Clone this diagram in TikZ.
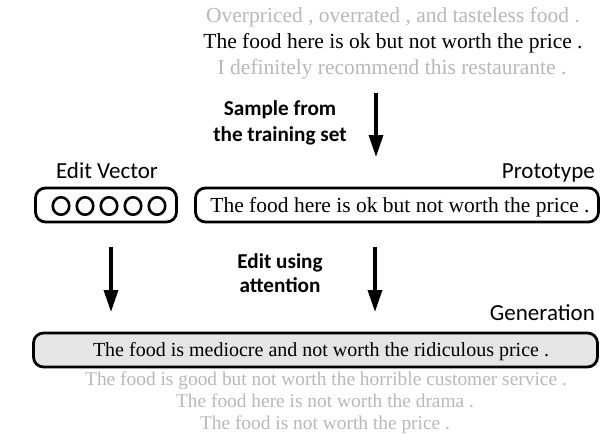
\documentclass[tikz,border=0pt]{standalone}
\usepackage{fontspec}
\setmainfont{Liberation Serif}
\newfontfamily\lblfont{Carlito}
\usetikzlibrary{arrows.meta,shapes.geometric}
\definecolor{txtgray}{gray}{0.72}
\definecolor{genfill}{gray}{0.9}
\begin{document}
\begin{tikzpicture}[x=1pt,y=-1pt,
  sent/.style={font=\fontsize{21.5}{26}\selectfont, inner sep=0pt, anchor=base},
  small sent/.style={font=\fontsize{19.4}{23}\selectfont, inner sep=0pt, anchor=base, text=txtgray},
  lbl/.style={font=\lblfont\fontsize{23}{27}\selectfont, inner sep=0pt, anchor=base},
  boldlbl/.style={font=\lblfont\bfseries\fontsize{21.2}{26}\selectfont, inner sep=0pt, anchor=base},
  roundbox/.style={draw, line width=2.8pt, rounded corners=10pt, inner sep=0pt, minimum height=34pt},
  vcirc/.style={draw, ellipse, line width=2.6pt, minimum width=16.5pt, minimum height=17.5pt, inner sep=0pt},
  arr/.style={line width=3.4pt, -{Triangle[width=14pt,length=22pt]}}
]
\useasboundingbox (0,0) rectangle (602,439);

% top sampled sentences
\node[sent, text=txtgray] (s1) at (393,22) {Overpriced , overrated , and tasteless food .};
\node[sent] (s2) at (393,48) {The food here is ok but not worth the price .};
\node[sent, text=txtgray] (s3) at (392,74) {I definitely recommend this restaurante .};

% sample label and arrow
\node[boldlbl] (sam1) at (280,115) {Sample from};
\node[boldlbl] (sam2) at (280,141) {the training set};
\coordinate (a1s) at (376,93);
\coordinate (a1e) at (376,157);
\draw[arr] (a1s) -- (a1e);

% labels
\node[lbl] (evl) at (107,178) {Edit Vector};
\node[lbl, anchor=base east] (prl) at (595,178) {Prototype};

% edit vector box
\node[roundbox, minimum width=141pt] (ev) at (106,205) {};
\node[vcirc] (c1) at (61,206) {};
\node[vcirc] (c2) at (85,206) {};
\node[vcirc] (c3) at (109,206) {};
\node[vcirc] (c4) at (133,206) {};
\node[vcirc] (c5) at (157,206) {};

% prototype box
\node[roundbox, minimum width=403pt] (proto) at (397,205) {};
\node[sent] (ptxt) at (400,212) {The food here is ok but not worth the price .};

% edit arrows
\coordinate (a2s) at (111,247);
\coordinate (a2e) at (111,312);
\draw[arr] (a2s) -- (a2e);
\coordinate (a3s) at (375,247);
\coordinate (a3e) at (375,312);
\draw[arr] (a3s) -- (a3e);
\node[boldlbl] (ed1) at (280,268) {Edit using};
\node[boldlbl] (ed2) at (280,292) {attention};

% generation
\node[lbl, anchor=base east] (genl) at (595,320) {Generation};
\node[roundbox, minimum width=564pt, fill=genfill] (gen) at (315.5,350) {};
\node[sent, font=\fontsize{20}{24}\selectfont] (gtxt) at (321,356) {The food is mediocre and not worth the ridiculous price .};

% bottom alternatives
\node[small sent] (b1) at (326,385) {The food is good but not worth the horrible customer service .};
\node[small sent] (b2) at (325,407) {The food here is not worth the drama .};
\node[small sent] (b3) at (325,429) {The food is not worth the price .};
\end{tikzpicture}
\end{document}
